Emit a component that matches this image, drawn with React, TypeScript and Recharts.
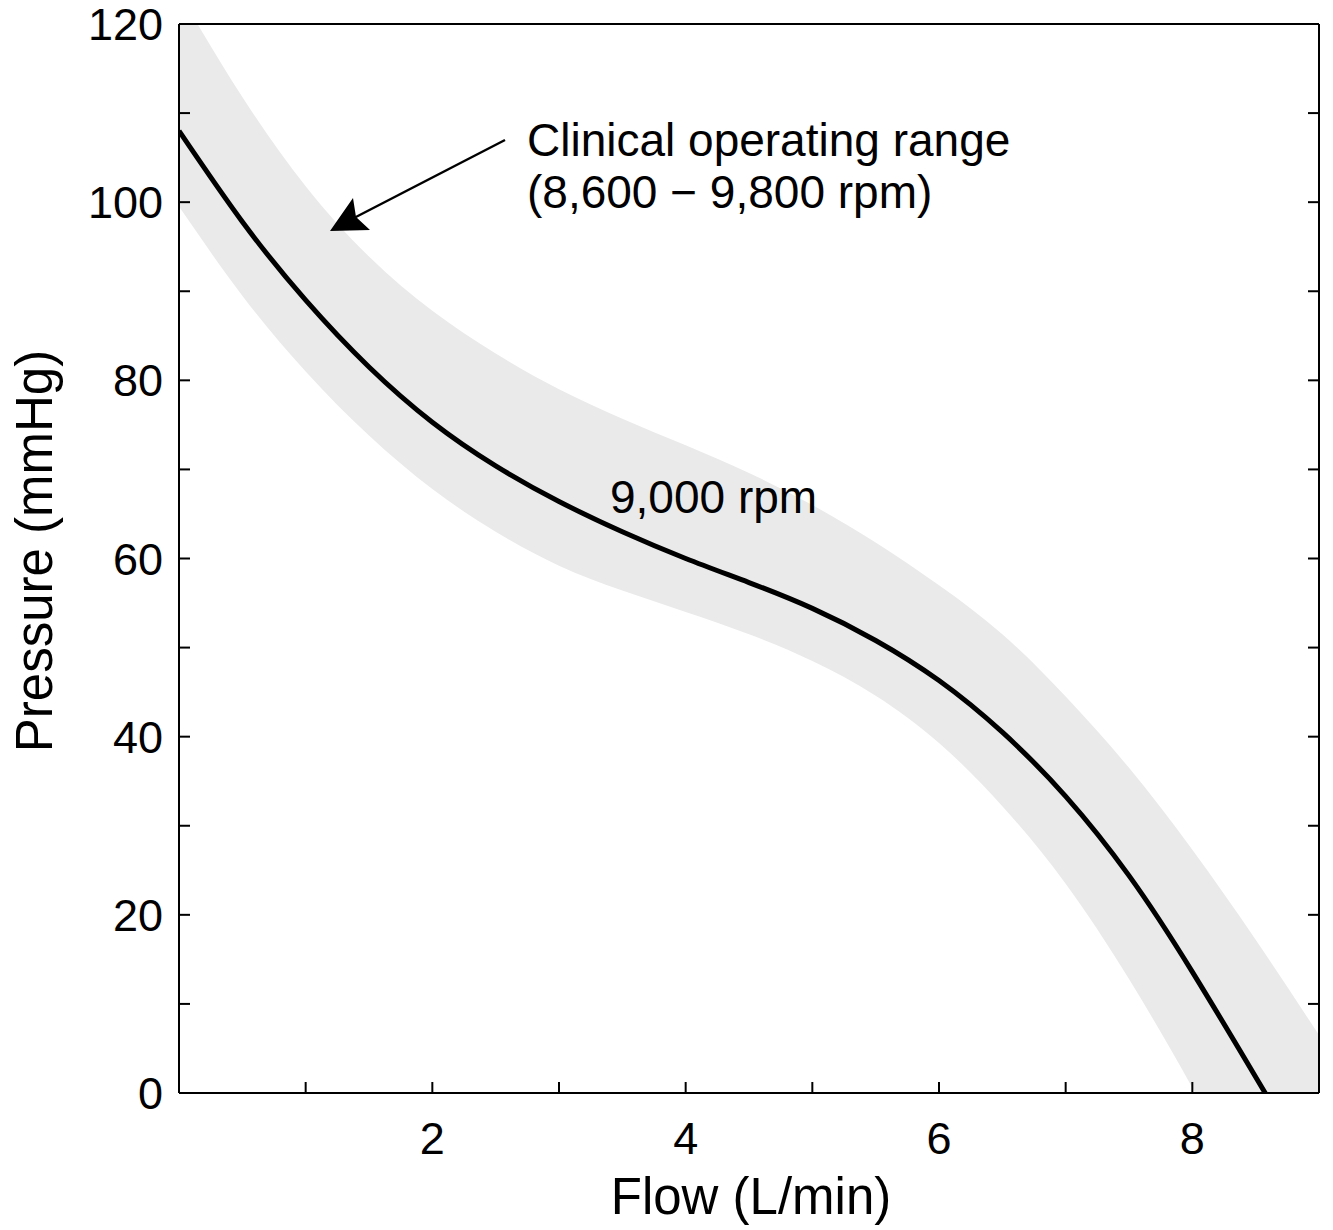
import { ComposedChart, Area, Line, XAxis, YAxis } from 'recharts';

// flow grid (L/min) shared by the operating band
const bandFlow = [0, 0.5, 1, 1.5, 2, 2.5, 3, 3.5, 4, 4.5, 5, 5.5, 6, 6.5, 7, 7.5, 8, 8.5, 9];
const bandHigh = [123.5, 111.8, 101.8, 93.9, 87.8, 83, 79, 75.7, 72.7, 69.6, 66, 61.8, 57, 51.5, 44.5, 36.5, 27.3, 17.2, 6.5];
const bandLow = [99.5, 89.5, 81, 73.8, 67.8, 63, 59.2, 56.4, 54, 51.5, 48.5, 44.6, 39.3, 32.2, 23.5, 12.8, 0.6, -12.5, -26];

// 9,000 rpm H-Q curve
const curveFlow = [0, 0.5, 1, 1.5, 2, 2.5, 3, 3.5, 4, 4.5, 5, 5.5, 6, 6.5, 7, 7.5, 8, 8.5, 8.575];
const curvePressure = [108, 97.8, 89, 81.5, 75.3, 70.4, 66.4, 63, 60, 57.3, 54.4, 50.8, 46.3, 40.5, 33.3, 24.4, 13.6, 1.8, 0];

const xTicks = [1, 2, 3, 4, 5, 6, 7, 8];
const yTicks = [0, 10, 20, 30, 40, 50, 60, 70, 80, 90, 100, 110, 120];

const FONT = '"Liberation Sans", Arial, Helvetica, sans-serif';
const TICK_LEN = 11;

const bandData = bandFlow.map((f, i) => ({ flow: f, range: [bandLow[i], bandHigh[i]] }));
const curveData = curveFlow.map((f, i) => ({ flow: f, pressure: curvePressure[i] }));

const BottomTick = ({ x, y, payload }: any) => (
  <g>
    <line x1={x} x2={x} y1={y} y2={y - TICK_LEN} stroke="#000" strokeWidth={2} />
    {payload.value % 2 === 0 && (
      <text x={x} y={y + 61} textAnchor="middle" fontSize={45} fontFamily={FONT} fill="#000">
        {payload.value}
      </text>
    )}
  </g>
);

const TopTick = ({ x, y }: any) => (
  <line x1={x} x2={x} y1={y} y2={y + TICK_LEN} stroke="#000" strokeWidth={2} />
);

const LeftTick = ({ x, y, payload }: any) => (
  <g>
    <line x1={x} x2={x + TICK_LEN} y1={y} y2={y} stroke="#000" strokeWidth={2} />
    {payload.value % 20 === 0 && (
      <text x={x - 16} y={y + 16} textAnchor="end" fontSize={45} fontFamily={FONT} fill="#000">
        {payload.value}
      </text>
    )}
  </g>
);

const RightTick = ({ x, y }: any) => (
  <line x1={x} x2={x - TICK_LEN} y1={y} y2={y} stroke="#000" strokeWidth={2} />
);

const axisLine = { stroke: '#000', strokeWidth: 2 };

export default function App() {
  return (
    <div style={{ position: 'absolute', left: 0, top: 0, width: 1333, height: 1230, background: '#fff' }}>
      <ComposedChart width={1333} height={1230} margin={{ top: 24, right: 14, left: 0, bottom: 0 }}>
        <XAxis
          xAxisId="b"
          type="number"
          dataKey="flow"
          domain={[0, 9]}
          allowDataOverflow
          ticks={xTicks}
          interval={0}
          height={137}
          tickSize={0}
          tickMargin={0}
          tickLine={false}
          axisLine={axisLine}
          tick={<BottomTick />}
        />
        <XAxis
          xAxisId="t"
          orientation="top"
          mirror
          type="number"
          domain={[0, 9]}
          allowDataOverflow
          ticks={xTicks}
          interval={0}
          height={30}
          tickSize={0}
          tickMargin={0}
          tickLine={false}
          axisLine={axisLine}
          tick={<TopTick />}
        />
        <YAxis
          yAxisId="l"
          type="number"
          domain={[0, 120]}
          allowDataOverflow
          ticks={yTicks}
          interval={0}
          width={179}
          tickSize={0}
          tickMargin={0}
          tickLine={false}
          axisLine={axisLine}
          tick={<LeftTick />}
        />
        <YAxis
          yAxisId="r"
          orientation="right"
          mirror
          type="number"
          domain={[0, 120]}
          allowDataOverflow
          ticks={yTicks}
          interval={0}
          width={30}
          tickSize={0}
          tickMargin={0}
          tickLine={false}
          axisLine={axisLine}
          tick={<RightTick />}
        />
        <Area
          xAxisId="b"
          yAxisId="l"
          data={bandData}
          dataKey="range"
          type="natural"
          stroke="none"
          fill="#eaeaea"
          fillOpacity={1}
          isAnimationActive={false}
        />
        <Line
          xAxisId="b"
          yAxisId="l"
          data={curveData}
          dataKey="pressure"
          type="natural"
          stroke="#000"
          strokeWidth={5}
          dot={false}
          isAnimationActive={false}
        />
      </ComposedChart>
      {/* annotations, drawn above the series */}
      <svg
        width={1333}
        height={1230}
        style={{ position: 'absolute', left: 0, top: 0, pointerEvents: 'none' }}
        fontFamily={FONT}
      >
        <line x1={505} y1={140} x2={352} y2={219} stroke="#000" strokeWidth={2.5} />
        <polygon points="330,231 353,198 356,217 370,230" fill="#000" />
        <text x={527} y={156} fontSize={46}>Clinical operating range</text>
        <text x={527} y={208} fontSize={46}>(8,600 − 9,800 rpm)</text>
        <text x={610} y={513} fontSize={46}>9,000 rpm</text>
        <text x={751} y={1214} fontSize={51} textAnchor="middle">Flow (L/min)</text>
        <text x={52} y={551} fontSize={51} textAnchor="middle" transform="rotate(-90 52 551)">
          Pressure (mmHg)
        </text>
      </svg>
    </div>
  );
}
